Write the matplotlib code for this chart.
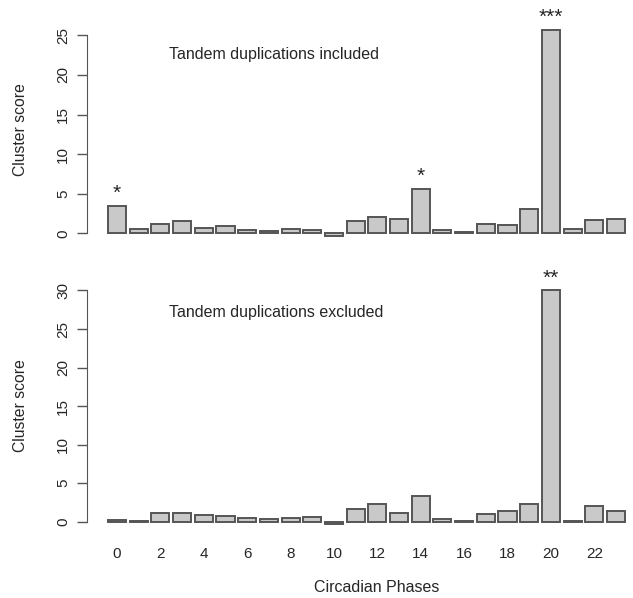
import matplotlib.pyplot as plt
import numpy as np

plt.rcParams['font.family'] = ['Liberation Sans', 'DejaVu Sans']

phases = list(range(24))
included = [3.5, 0.6, 1.2, 1.6, 0.7, 0.95, 0.4, 0.35, 0.6, 0.4, -0.35, 1.5,
            2.1, 1.85, 5.6, 0.45, 0.2, 1.15, 1.0, 3.05, 25.7, 0.6, 1.65, 1.85]
excluded = [0.2, 0.15, 1.2, 1.15, 0.9, 0.8, 0.5, 0.35, 0.55, 0.6, -0.3, 1.6,
            2.35, 1.2, 3.4, 0.3, 0.1, 1.0, 1.35, 2.3, 30.0, 0.05, 2.1, 1.35]
stars_inc = {0: '*', 14: '*', 20: '***'}
stars_exc = {20: '**'}
xtick_phases = list(range(0, 24, 2))

W, H = 633, 598
fig = plt.figure(figsize=(W / 100, H / 100), dpi=100)

def px_axes(left, right, top, bottom):
    return fig.add_axes([left / W, 1 - bottom / H, (right - left) / W, (bottom - top) / H])

xpos = np.array(phases) * 1.2
fill = '#c9c9c9'
edge = '#555555'
txt = '#262626'

def panel(ax, vals, stars, ymax, title, title_y):
    ax.bar(xpos, vals, width=1.0, color=fill, edgecolor=edge, linewidth=1.4)
    for i, s in stars.items():
        ax.annotate(s, (xpos[i], vals[i]), xytext=(0, 2), textcoords='offset points',
                    ha='center', va='bottom', fontsize=15, color=txt)
    ax.set_xlim(-1.66, 28.54)
    for sp in ['top', 'right', 'bottom']:
        ax.spines[sp].set_visible(False)
    ax.spines['left'].set_color(edge)
    ax.spines['left'].set_bounds(0, ymax)
    ax.set_yticks(np.arange(0, ymax + 1, 5))
    ax.tick_params(axis='y', length=7.2, width=1, color=edge, labelsize=11,
                   labelcolor=txt, pad=5)
    for lab in ax.get_yticklabels():
        lab.set_rotation(90)
        lab.set_va('center')
    ax.set_ylabel('Cluster score', fontsize=11.3, color=txt, labelpad=20)
    ax.text(169 / W, title_y, title, transform=fig.transFigure, fontsize=11.5,
            color=txt, va='center', ha='left')

ax1 = px_axes(87, 633, 15.5, 244.4)
ax1.set_ylim(-1.4, 27.5)
panel(ax1, included, stars_inc, 25, 'Tandem duplications included', 1 - 55 / H)
ax1.set_xticks([])

ax2 = px_axes(87, 633, 278.9, 531.8)
ax2.set_ylim(-1.3, 31.5)
panel(ax2, excluded, stars_exc, 30, 'Tandem duplications excluded', 1 - 312 / H)
ax2.set_xticks(xpos[xtick_phases])
ax2.set_xticklabels([str(p) for p in xtick_phases])
ax2.tick_params(axis='x', length=0, pad=11, labelsize=11, labelcolor=txt)

fig.text(377 / W, 1 - 588 / H, 'Circadian Phases', fontsize=11.5, color=txt,
         ha='center', va='center')

fig.savefig('out.png', dpi=100, facecolor='white')
